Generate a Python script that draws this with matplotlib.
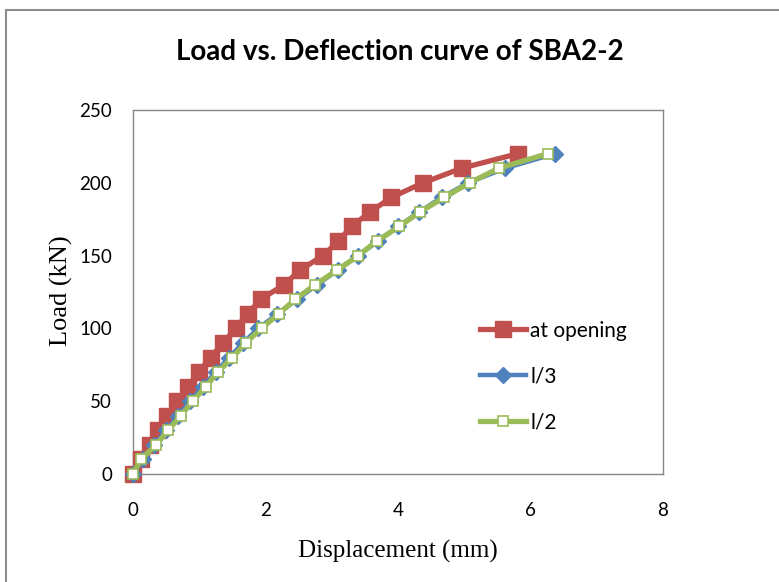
"""Load vs. deflection curve of SBA2-2 (Excel-style line chart)."""

import matplotlib

matplotlib.use("Agg")

import matplotlib.pyplot as plt
from matplotlib.patches import Rectangle

# load steps (kN), shared by all three gauges
load_kn = [0, 10, 20, 30, 40, 50, 60, 70, 80, 90, 100, 110,
           120, 130, 140, 150, 160, 170, 180, 190, 200, 210, 220]

# displacement (mm)
disp_opening = [0.00, 0.12, 0.25, 0.38, 0.52, 0.67, 0.83, 0.99, 1.17, 1.36, 1.55, 1.73,
                1.93, 2.28, 2.52, 2.87, 3.10, 3.30, 3.58, 3.90, 4.38, 4.96, 5.81]
disp_l3 = [0.00, 0.15, 0.32, 0.50, 0.68, 0.86, 1.05, 1.25, 1.45, 1.66, 1.89, 2.18,
           2.48, 2.78, 3.09, 3.40, 3.70, 4.00, 4.32, 4.66, 5.06, 5.62, 6.37]
disp_l2 = [0.00, 0.12, 0.35, 0.53, 0.72, 0.90, 1.10, 1.28, 1.50, 1.70, 1.94, 2.20,
           2.45, 2.75, 3.08, 3.40, 3.68, 4.02, 4.33, 4.70, 5.08, 5.52, 6.26]

series_labels = ["at opening", "l/3", "l/2"]
x_ticks = [0, 2, 4, 6, 8]
y_ticks = [0, 50, 100, 150, 200, 250]

RED = "#c0504d"
BLUE = "#4f81bd"
GREEN = "#9bbb59"
GRID = "#868686"
SANS = ["Lato", "DejaVu Sans"]
SERIF = ["Liberation Serif", "DejaVu Serif"]

W, H = 779, 582
fig = plt.figure(figsize=(W / 100, H / 100), dpi=100)
fig.patch.set_facecolor("white")

# outer chart-area border (runs off the right and bottom edges)
fig.patches.append(Rectangle((6 / W, -0.1), 1.2, 1.1 - 10 / H, transform=fig.transFigure,
                             fill=False, edgecolor="#8c8c8c", linewidth=1.5))

ax = fig.add_axes([133 / W, 1 - 474 / H, 530 / W, 364 / H])

ax.plot(disp_opening, load_kn, color=RED, linewidth=3.8, marker="s", markersize=11,
        markerfacecolor=RED, markeredgecolor=RED, label=series_labels[0], clip_on=False, zorder=3)
ax.plot(disp_l3, load_kn, color=BLUE, linewidth=3.2, marker="D", markersize=8,
        markerfacecolor=BLUE, markeredgecolor=BLUE, label=series_labels[1], clip_on=False, zorder=4)
ax.plot(disp_l2, load_kn, color=GREEN, linewidth=3.8, marker="s", markersize=7.5,
        markerfacecolor="white", markeredgecolor=GREEN, markeredgewidth=1.2,
        label=series_labels[2], clip_on=False, zorder=5)

ax.set_xlim(0, 8)
ax.set_ylim(0, 250)
ax.set_xticks(x_ticks)
ax.set_yticks(y_ticks)
ax.tick_params(length=0, labelsize=13.5, colors="black")
ax.tick_params(axis="y", pad=15)
ax.tick_params(axis="x", pad=20)
for lab in ax.get_xticklabels() + ax.get_yticklabels():
    lab.set_family(SANS)

for spine in ax.spines.values():
    spine.set_color(GRID)
    spine.set_linewidth(1.0)

ax.set_xlabel("Displacement (mm)", family=SERIF, fontsize=18)
ax.set_ylabel("Load (kN)", family=SERIF, fontsize=19)
ax.xaxis.set_label_coords(0.5, -0.181)
ax.yaxis.set_label_coords(-0.113, 0.503)

fig.text(400 / W, 1 - 52 / H, "Load vs. Deflection curve of SBA2-2", ha="center", va="center",
         fontsize=20, fontweight="bold", family=SANS)

ax.legend(loc="upper left", bbox_to_anchor=(0.636, 0.45), frameon=False,
          prop={"family": SANS, "size": 15},
          handlelength=2.2, handletextpad=0.2, labelspacing=1.24, borderpad=0)

fig.savefig("out.png", dpi=100, facecolor=fig.get_facecolor())
